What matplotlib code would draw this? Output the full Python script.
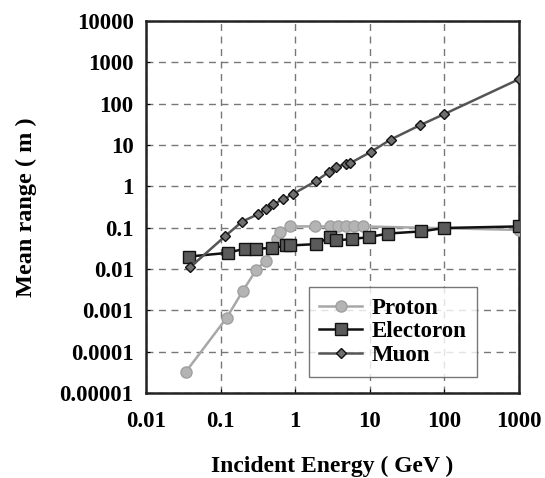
import matplotlib.pyplot as plt
from matplotlib.ticker import FixedLocator, FixedFormatter

plt.rcParams["font.family"] = ["Liberation Serif", "DejaVu Serif"]
plt.rcParams["font.weight"] = "bold"

proton_x = [0.034, 0.12, 0.2, 0.3, 0.4, 0.57, 0.63, 0.86, 1.86, 2.9, 3.8, 4.8, 6.1, 8.2, 1000]
proton_y = [3.2e-5, 6.5e-4, 0.003, 0.0095, 0.016, 0.052, 0.078, 0.107, 0.107, 0.107,
            0.107, 0.107, 0.107, 0.107, 0.088]

electron_x = [0.038, 0.124, 0.21, 0.30, 0.49, 0.76, 0.86, 1.93, 2.9, 3.5, 5.8, 9.8, 17.5, 49, 100, 1000]
electron_y = [0.020, 0.0245, 0.031, 0.031, 0.032, 0.037, 0.037, 0.040, 0.059, 0.049, 0.053,
              0.059, 0.072, 0.081, 0.098, 0.107]

muon_x = [0.039, 0.115, 0.194, 0.316, 0.40, 0.50, 0.69, 0.93, 1.93, 2.8, 3.5, 4.8, 5.5,
          10.5, 19, 47, 100, 1000]
muon_y = [0.011, 0.062, 0.14, 0.21, 0.28, 0.37, 0.48, 0.65, 1.36, 2.2, 2.9, 3.5, 3.66,
          6.9, 13.5, 30, 56, 390]

x_ticks = [0.01, 0.1, 1, 10, 100, 1000]
x_labels = ["0.01", "0.1", "1", "10", "100", "1000"]
y_ticks = [1e-5, 1e-4, 1e-3, 1e-2, 1e-1, 1, 10, 100, 1000, 10000]
y_labels = ["0.00001", "0.0001", "0.001", "0.01", "0.1", "1", "10", "100", "1000", "10000"]

fig = plt.figure(figsize=(5.45, 4.78), dpi=100)
ax = fig.add_axes([0.268, 0.178, 0.684, 0.778])

ax.plot(proton_x, proton_y, color="#a8a8a8", lw=1.8, marker="o", ms=8,
        mfc="#b4b4b4", mec="#a0a0a0", label="Proton", zorder=3)
ax.plot(electron_x, electron_y, color="#111111", lw=1.8, marker="s", ms=8,
        mfc="#5a5a5a", mec="#111111", label="Electoron", zorder=4)
ax.plot(muon_x, muon_y, color="#555555", lw=1.8, marker="D", ms=5.5,
        mfc="#707070", mec="#111111", label="Muon", zorder=5)

ax.set_xscale("log")
ax.set_yscale("log")
ax.set_xlim(0.01, 1000)
ax.set_ylim(1e-5, 1e4)

ax.xaxis.set_major_locator(FixedLocator(x_ticks))
ax.xaxis.set_major_formatter(FixedFormatter(x_labels))
ax.yaxis.set_major_locator(FixedLocator(y_ticks))
ax.yaxis.set_major_formatter(FixedFormatter(y_labels))
ax.xaxis.set_minor_locator(FixedLocator([]))
ax.yaxis.set_minor_locator(FixedLocator([]))

ax.tick_params(axis="both", direction="in", length=3, labelsize=16.5)
ax.tick_params(axis="x", pad=13)
ax.tick_params(axis="y", pad=9)

ax.grid(True, which="major", color="#777777", ls=(0, (5, 4)), lw=1)

for side in ax.spines.values():
    side.set_color("#222222")
    side.set_linewidth(1.8)

ax.set_xlabel("Incident Energy ( GeV )", fontsize=17, fontweight="bold", labelpad=17)
ax.set_ylabel("Mean range ( m )", fontsize=17.5, fontweight="bold", labelpad=16)

leg = ax.legend(loc="lower right", bbox_to_anchor=(0.887, 0.044), fontsize=16.5,
                frameon=True, fancybox=False, edgecolor="#555555",
                handlelength=1.9, borderpad=0.45, labelspacing=0.12, handletextpad=0.4,
                borderaxespad=0)
leg.get_frame().set_linewidth(1.0)

fig.savefig("out.png", dpi=100)
